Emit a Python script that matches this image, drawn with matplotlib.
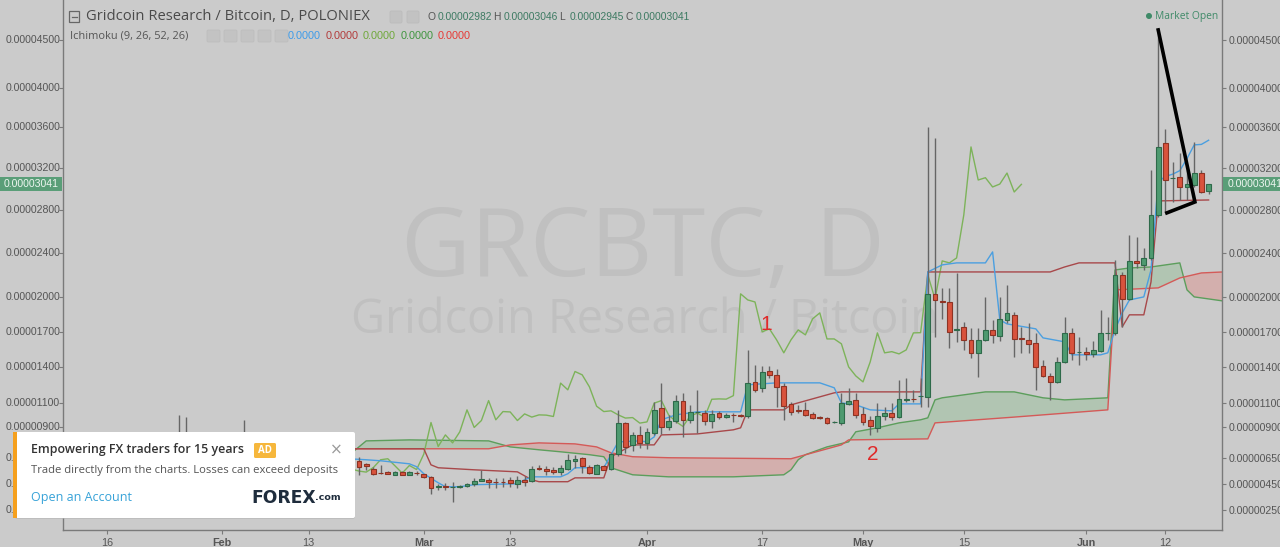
import datetime as dt
import numpy as np
import matplotlib
matplotlib.use("Agg")
import matplotlib.pyplot as plt
import matplotlib.dates as mdates
from matplotlib.patches import FancyBboxPatch, Rectangle, Circle

W, H = 1280, 547
BG = "#cbcbcb"

# ---------------- data (prices in satoshi = 1e-8 BTC) ----------------
first_day = dt.date(2017, 1, 10)
opens = [740, 720, 745, 730, 710, 725, 760, 745, 730, 715, 720, 735, 725, 705, 715, 730,
         755, 780, 760, 745, 735, 715, 720, 710, 725, 745, 760, 735, 705, 690, 700, 685,
         670, 680, 665, 650, 660, 655, 640, 650, 645,
         634, 606, 571, 537, 545, 522, 543, 524, 537, 527, 504, 428, 432, 425, 427, 431,
         450, 473, 483, 467, 467, 478, 452, 485, 475, 574, 569, 561, 545, 571, 632, 650,
         585, 532, 587, 566, 685, 938, 758, 838, 774, 855, 1055, 898, 952, 1117, 960, 1020,
         1014, 954, 1014, 982, 1002, 1000, 987, 1270, 1225, 1365, 1331, 1234, 1088, 1037,
         1041, 1006, 982, 974, 939, 938, 1088, 1123, 1006, 960, 893, 992, 1014, 982, 1126,
         1133, 1155, 1150, 2030, 1965, 1958, 1715, 1740, 1628, 1517, 1628, 1714, 1662, 1801,
         1844, 1640, 1628, 1602, 1406, 1322, 1272, 1440, 1688, 1522, 1525, 1508, 1534, 1686,
         1688, 2200, 1985, 2326, 2290, 2353, 2751, 3444, 3100, 3112, 3016, 3035, 3150, 2982]
highs = [770, 760, 780, 760, 740, 770, 790, 770, 755, 740, 750, 760, 745, 730, 740, 770,
         1000, 982, 790, 770, 760, 740, 745, 735, 760, 960, 790, 760, 730, 720, 725, 710,
         700, 705, 690, 680, 690, 680, 670, 680, 670,
         661, 614, 582, 600, 548, 550, 548, 548, 553, 532, 514, 452, 456, 462, 445, 458,
         496, 561, 496, 496, 496, 504, 509, 509, 587, 600, 587, 582, 600, 687, 679, 661,
         600, 608, 600, 693, 1041, 946, 865, 906, 892, 1109, 1262, 1000, 1164, 1178, 1082, 1206,
         1041, 1041, 1030, 1015, 1014, 1008, 1542, 1415, 1406, 1406, 1380, 1262, 1109, 1082,
         1109, 1020, 990, 982, 950, 1178, 1220, 1178, 1068, 987, 1096, 1068, 1096, 1289,
         1303, 1206, 1303, 3600, 3494, 2083, 2083, 2217, 1783, 1731, 1731, 2006, 1801, 2006,
         2110, 1873, 1742, 1775, 1688, 1457, 1348, 1485, 1830, 1731, 1656, 1570, 1614, 1888,
         1830, 2335, 2226, 2564, 2549, 2444, 3180, 4607, 3583, 3260, 3342, 3180, 3456, 3180, 3046]
lows = [700, 690, 720, 700, 680, 710, 730, 715, 700, 690, 700, 710, 700, 680, 695, 715,
        740, 745, 730, 720, 700, 690, 700, 690, 710, 730, 720, 700, 680, 670, 680, 660,
        650, 660, 640, 630, 640, 630, 620, 630, 620,
        522, 561, 524, 530, 527, 518, 520, 520, 518, 497, 375, 400, 405, 308, 418, 425,
        431, 470, 419, 419, 427, 427, 419, 431, 462, 561, 519, 530, 522, 556, 574, 535,
        530, 527, 561, 561, 671, 693, 713, 732, 725, 839, 847, 879, 933, 825, 933, 852,
        919, 896, 970, 975, 941, 980, 978, 1192, 1192, 1306, 1068, 960, 1000, 1014,
        987, 965, 970, 925, 933, 919, 1082, 974, 919, 839, 865, 960, 960, 974,
        1109, 1109, 1068, 1068, 1654, 1810, 1559, 1611, 1542, 1474, 1315, 1614, 1602, 1614,
        1775, 1485, 1517, 1517, 1206, 1315, 1123, 1262, 1429, 1457, 1415, 1457, 1485, 1528,
        1628, 1671, 1740, 1976, 2260, 2244, 2335, 2732, 2779, 2876, 2892, 2892, 3020, 2955, 2945]
closes = [720, 745, 730, 710, 725, 760, 745, 730, 715, 720, 735, 725, 705, 715, 730, 755,
          780, 760, 745, 735, 715, 720, 710, 725, 745, 760, 735, 705, 690, 700, 685, 670,
          680, 665, 650, 660, 655, 640, 650, 645, 634,
          582, 587, 532, 535, 530, 545, 524, 543, 534, 501, 419, 433, 430, 430, 437, 450,
          475, 491, 462, 464, 464, 457, 483, 465, 569, 566, 551, 543, 579, 640, 648, 592,
          535, 595, 563, 685, 938, 745, 838, 774, 863, 1041, 898, 954, 1117, 960, 1027, 1024,
          954, 1008, 982, 1000, 998, 987, 1262, 1206, 1359, 1331, 1231, 1071, 1027, 1033,
          1000, 974, 978, 933, 943, 1096, 1117, 1000, 946, 906, 992, 1014, 982, 1128,
          1131, 1129, 1158, 2030, 1976, 1958, 1697, 1723, 1628, 1517, 1628, 1714, 1671, 1810,
          1862, 1636, 1636, 1594, 1398, 1322, 1272, 1440, 1688, 1517, 1527, 1508, 1542, 1688,
          1690, 2200, 1985, 2326, 2308, 2353, 2751, 3405, 3083, 3105, 3016, 3044, 3150, 2968, 3041]

# Ichimoku lines: (day offset from 2017-01-16, value)
ref_day = dt.date(2017, 1, 16)
tenkan_day = [31, 36, 38, 42, 43, 44, 46, 47, 49, 51, 57, 58, 59, 63, 64, 65, 69, 70, 71, 74,
              75, 76, 77, 79, 82, 88, 89, 93, 99, 101, 102, 104, 106, 109, 110, 113, 114, 116,
              118, 122, 123, 124, 125, 129, 130, 133, 134, 138, 139, 140, 141, 142, 144, 145,
              146, 147, 148, 149, 150, 151, 152, 153]
tenkan_val = [656, 640, 632, 608, 585, 530, 460, 429, 429, 445, 452, 483, 506, 506, 530, 577,
              577, 680, 782, 790, 782, 822, 960, 1000, 1025, 1025, 1248, 1264, 1264, 1223, 1098,
              1082, 1041, 1033, 1090, 1090, 2226, 2290, 2308, 2308, 2408, 1801, 1766, 1723,
              1645, 1611, 1500, 1500, 1517, 1714, 1862, 1976, 2003, 2244, 3067, 3117, 3139,
              3173, 3291, 3425, 3430, 3471]
kijun_day = [31, 44, 45, 46, 51, 57, 59, 60, 64, 65, 69, 70, 71, 73, 76, 77, 82, 87, 88, 89,
             94, 95, 101, 102, 113, 114, 131, 133, 135, 140, 141, 142, 144, 145, 146, 153]
kijun_val = [727, 727, 600, 577, 561, 545, 483, 468, 468, 498, 498, 664, 695, 758, 758, 838,
             846, 879, 895, 1041, 1041, 1082, 1181, 1189, 1189, 2226, 2226, 2271, 2308, 2308,
             1740, 1845, 1845, 2136, 2883, 2892]
span_a_day = [31, 34, 36, 42, 53, 55, 56, 60, 63, 67, 69, 70, 73, 78, 87, 94, 95, 96, 97, 100,
              103, 104, 107, 110, 113, 114, 115, 116, 122, 126, 130, 133, 139, 140, 142, 145,
              149, 150, 151, 155]
span_a_val = [680, 695, 790, 798, 790, 758, 742, 719, 703, 680, 664, 577, 522, 506, 506, 522,
              561, 640, 680, 742, 782, 863, 895, 935, 960, 976, 1123, 1140, 1189, 1189, 1140,
              1123, 1140, 2244, 2262, 2271, 2308, 2065, 2003, 1967]
span_b_day = [31, 53, 56, 60, 65, 68, 70, 73, 78, 95, 102, 103, 114, 115, 126, 139, 140, 146,
              149, 152, 155]
span_b_val = [727, 727, 758, 774, 766, 742, 695, 664, 656, 648, 758, 798, 806, 935, 982, 1041,
              2065, 2083, 2172, 2217, 2226]
lag_shift = 26  # Chikou span = closes displaced 26 days back

# hand-drawn annotations
arrow_day = [146.0, 151.1, 147.2]
arrow_val = [4607, 2873, 2770]

y_ticks = [4500, 4000, 3600, 3200, 2800, 2400, 2000, 1700, 1400, 1100, 900, 650, 450, 250]
x_tick_dates = [dt.date(2017, 1, 16), dt.date(2017, 2, 1), dt.date(2017, 2, 13), dt.date(2017, 3, 1),
                dt.date(2017, 3, 13), dt.date(2017, 4, 1), dt.date(2017, 4, 17), dt.date(2017, 5, 1),
                dt.date(2017, 5, 15), dt.date(2017, 6, 1), dt.date(2017, 6, 12)]
x_tick_labels = ["16", "Feb", "13", "Mar", "13", "Apr", "17", "May", "15", "Jun", "12"]
last_price = 3041

# ---------------- figure ----------------
fig = plt.figure(figsize=(W / 100, H / 100), dpi=100, facecolor=BG)
ax = fig.add_axes([63 / W, 17 / H, (1222 - 63) / W, 530 / H])
ax.set_facecolor(BG)

OFF = 10500.0
ax.set_yscale("function", functions=(lambda v: np.log10(np.asarray(v) + OFF),
                                      lambda t: 10 ** np.asarray(t) - OFF))
ax.set_ylim(99, 4931)

base = mdates.date2num(ref_day)
dates = [first_day + dt.timedelta(days=i) for i in range(len(opens))]
xd = mdates.date2num(dates)
ax.set_xlim(base - 6.11, base + 154.86)

# watermark
ax.text(0.5005, 0.525, "GRCBTC, D", transform=ax.transAxes, ha="center", va="center",
        fontsize=69, color="#c0c0c0", family="Open Sans", zorder=0.1)
ax.text(0.502, 0.395, "Gridcoin Research / Bitcoin", transform=ax.transAxes, ha="center",
        va="center", fontsize=33.7, color="#c0c0c0", family="Open Sans", zorder=0.1)

def tod(days):
    return base + np.asarray(days, dtype=float)

# cloud fill
grid = np.linspace(31, 155, 2000)
a_i = np.interp(grid, span_a_day, span_a_val)
b_i = np.interp(grid, span_b_day, span_b_val)
ax.fill_between(tod(grid), a_i, b_i, where=a_i >= b_i, interpolate=True,
                color="#4caf50", alpha=0.2, lw=0, zorder=1)
ax.fill_between(tod(grid), a_i, b_i, where=a_i < b_i, interpolate=True,
                color="#f44336", alpha=0.2, lw=0, zorder=1)
ax.plot(tod(span_a_day), span_a_val, color="#5c9e5c", lw=1.0, zorder=2)
ax.plot(tod(span_b_day), span_b_val, color="#d45a58", lw=1.0, zorder=2)

# chikou
ax.plot(xd - lag_shift, closes, color="#7db35a", lw=1.0, zorder=2)
# kijun / tenkan
ax.plot(tod(kijun_day), kijun_val, color="#a8484a", lw=1.0, zorder=3)
ax.plot(tod(tenkan_day), tenkan_val, color="#4b9fe0", lw=1.0, zorder=3)

# candles
o = np.array(opens, float); c = np.array(closes, float)
hi = np.array(highs, float); lo = np.array(lows, float)
up = c >= o
ax.vlines(xd, lo, hi, color="#666666", lw=1.0, zorder=4)
ax.bar(xd[up], (c - o)[up], bottom=o[up], width=0.68, color="#4e9a70",
       edgecolor="#2e6a4a", lw=0.8, zorder=5)
ax.bar(xd[~up], (o - c)[~up], bottom=c[~up], width=0.68, color="#d9533d",
       edgecolor="#8e3324", lw=0.8, zorder=5)

# annotations
ax.plot(tod(arrow_day), arrow_val, color="black", lw=2.6, solid_joinstyle="miter", zorder=6)
ax.text(base + 91.6, 1760, "1", color="#e02a2a", fontsize=15, ha="center", va="center",
        family="Liberation Sans", zorder=6)
ax.text(base + 106.4, 680, "2", color="#e02a2a", fontsize=15, ha="center", va="center",
        family="Liberation Sans", zorder=6)

# axes styling
ax.spines["top"].set_visible(False)
for s in ["left", "right", "bottom"]:
    ax.spines[s].set_color("#7a7a7a")
    ax.spines[s].set_linewidth(1.0)
ax.set_yticks(y_ticks)
ax.yaxis.set_minor_locator(matplotlib.ticker.NullLocator())
ax.set_yticklabels(["%.8f" % (v * 1e-8) for v in y_ticks])
ax.tick_params(axis="y", which="both", left=True, right=True, labelleft=False, labelright=True,
               length=3, width=0.8, color="#7a7a7a", labelsize=7.6, labelcolor="#555555", pad=2)
for t in ax.get_yticklabels():
    t.set_family("Liberation Sans")
ax.set_xticks(mdates.date2num(x_tick_dates))
ax.set_xticklabels(x_tick_labels)
ax.tick_params(axis="x", length=3, width=0.8, color="#7a7a7a", labelsize=7.8,
               labelcolor="#555555", pad=3)
for t, lab in zip(ax.get_xticklabels(), x_tick_labels):
    t.set_family("Liberation Sans")
    if not lab.isdigit():
        t.set_fontweight("bold")

# ---------------- overlay (pixel coordinates) ----------------
ov = fig.add_axes([0, 0, 1, 1], zorder=10)
ov.set_xlim(0, W); ov.set_ylim(H, 0); ov.axis("off"); ov.patch.set_alpha(0)

def ypix(v):
    return H - ax.transData.transform((base, v))[1]

def left_label(x, y, s, color):
    return ov.text(x, y, s, fontsize=7.6, color=color, family="Liberation Sans",
                   ha="left", va="center", zorder=2)

for v in y_ticks:
    left_label(6, ypix(v), "%.8f" % (v * 1e-8), "#555555")

# current price labels
yp = ypix(last_price)
ov.add_patch(Rectangle((0, yp - 7), 62, 14, color="#5a9e78", lw=0, zorder=1.5))
ov.add_patch(Rectangle((1223, yp - 7), 57, 14, color="#5a9e78", lw=0, zorder=1.5))
left_label(4, yp, "%.8f" % (last_price * 1e-8), "#eef6f0")
ov.text(1228, yp, "%.8f" % (last_price * 1e-8), fontsize=7.6, color="#eef6f0",
        family="Liberation Sans", ha="left", va="center", zorder=2)

# header
ov.add_patch(Rectangle((69, 11), 10, 11, fill=False, ec="#666666", lw=0.9))
ov.plot([71.5, 76.5], [16.5, 16.5], color="#666666", lw=0.9)
ov.text(86, 17, "Gridcoin Research / Bitcoin, D, POLONIEX", fontsize=10.6, color="#4a4a4a",
        family="Open Sans", ha="left", va="center")
for x0 in (390, 407):
    ov.add_patch(FancyBboxPatch((x0, 11), 12, 12, boxstyle="round,pad=0,rounding_size=1.5",
                                fc="#c2c2c2", ec="#bcbcbc", lw=0.6))
ohlc = [("O", "0.00002982"), ("H", "0.00003046"), ("L", "0.00002945"), ("C", "0.00003041")]
xc = 427
for lab, val in ohlc:
    ov.text(xc, 17, lab, fontsize=7.4, color="#555555", family="Liberation Sans", ha="left", va="center")
    ov.text(xc + 10.5, 17, val, fontsize=7.4, color="#3d7a62", family="Liberation Sans", ha="left", va="center")
    xc += 66

ov.text(70, 36, "Ichimoku (9, 26, 52, 26)", fontsize=7.9, color="#555555",
        family="Open Sans", ha="left", va="center")
for x0 in (207, 224, 241, 258, 275):
    ov.add_patch(FancyBboxPatch((x0, 30), 13, 12, boxstyle="round,pad=0,rounding_size=1.5",
                                fc="#c3c3c3", ec="#bdbdbd", lw=0.6))
ind_cols = ["#3d9be9", "#b23b3b", "#6fa83a", "#3f953f", "#e53935"]
xc = 288
for col in ind_cols:
    ov.text(xc, 36, "0.0000", fontsize=7.8, color=col, family="Liberation Sans", ha="left", va="center")
    xc += 37.5

ov.add_patch(Circle((1149, 16), 2.3, color="#3f8a68"))
ov.text(1155, 16, "Market Open", fontsize=7.4, color="#3f8a68", family="Open Sans",
        ha="left", va="center")

# ad box (drawn above everything else)
Z = 20
ov.add_patch(FancyBboxPatch((15, 433), 340, 86, boxstyle="round,pad=0,rounding_size=2",
                            fc="#b4b4b4", ec="none", alpha=0.6, zorder=Z))
ov.add_patch(FancyBboxPatch((13, 432), 342, 86, boxstyle="round,pad=0,rounding_size=2",
                            fc="#ffffff", ec="none", zorder=Z))
ov.add_patch(Rectangle((13, 432), 4, 86, color="#f5a01e", lw=0, zorder=Z + 1))
ov.text(31, 450, "Empowering FX traders for 15 years", fontsize=8.9, color="#333333",
        family="Open Sans", weight="semibold", ha="left", va="center", zorder=Z + 1)
ov.add_patch(FancyBboxPatch((254, 443), 22, 15, boxstyle="round,pad=0,rounding_size=1.5",
                            fc="#f6b73c", ec="none", zorder=Z + 1))
ov.text(265, 450.5, "AD", fontsize=7, color="white", weight="bold", family="Open Sans",
        ha="center", va="center", zorder=Z + 2)
ov.text(336, 450, "\u00d7", fontsize=11, color="#9a9a9a", family="DejaVu Sans",
        ha="center", va="center", zorder=Z + 1)
ov.text(31, 471, "Trade directly from the charts. Losses can exceed deposits", fontsize=8.1,
        color="#555555", family="Open Sans", ha="left", va="center", zorder=Z + 1)
ov.text(31, 498, "Open an Account", fontsize=9.0, color="#36a2d8", family="Open Sans",
        ha="left", va="center", zorder=Z + 1)
ov.text(251, 498, "FOREX", fontsize=12.3, color="#1f2d3d", weight="bold", family="DejaVu Sans",
        ha="left", va="center", zorder=Z + 1)
ov.text(315, 497, ".com", fontsize=6.8, color="#1f2d3d", weight="bold", family="DejaVu Sans",
        ha="left", va="center", zorder=Z + 1)

fig.savefig("out.png", dpi=100, facecolor=BG)
